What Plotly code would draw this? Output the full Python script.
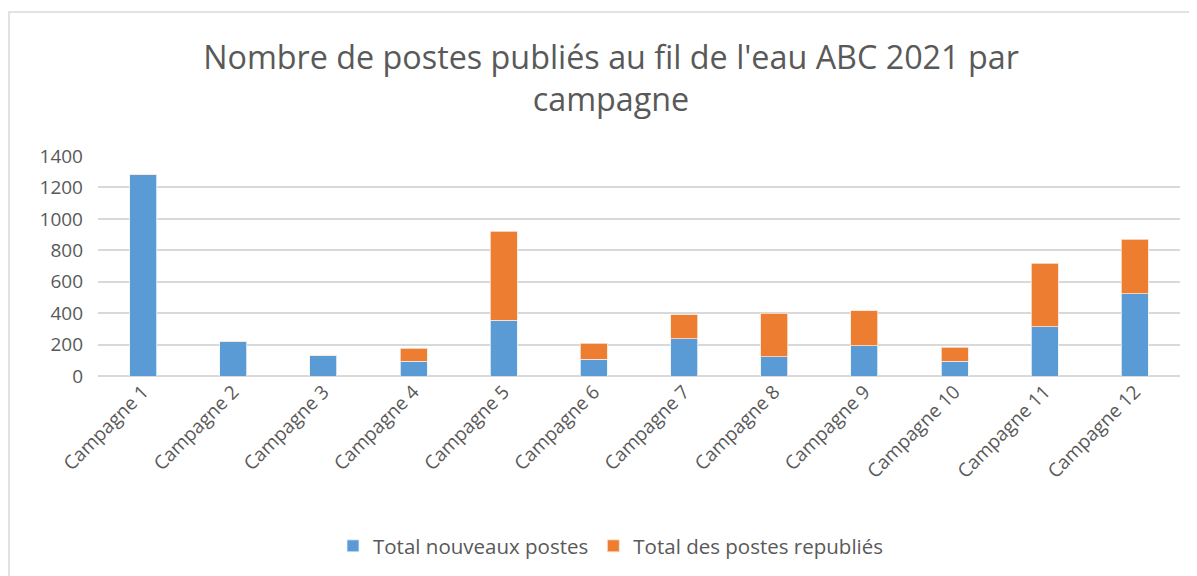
import plotly.graph_objects as go

categories = [f"Campagne {i}" for i in range(1, 13)]
nouveaux = [1280, 220, 130, 93, 355, 106, 238, 121, 193, 93, 314, 523]
republies = [0, 0, 0, 83, 565, 104, 151, 278, 223, 90, 402, 348]
y_ticks = [0, 200, 400, 600, 800, 1000, 1200, 1400]

BLUE = "#5B9BD5"
ORANGE = "#ED7D31"
TXT = "#595959"
GRID = "#D9D9D9"
FONT = "Open Sans"

O = 8  # page body margin offset
W, H = 1197 - O, 576 - O
# plot area in page coords: x 98..1180, y 156..376
L = 98 - O
T = 156 - O
R = W - (1180 - O)
B = H - (376 - O)
pw, ph = W - L - R, H - T - B

def px(x):  # page x -> paper
    return (x - O - L) / pw

def py(y):  # page y -> paper
    return (H - B - (y - O)) / ph

fig = go.Figure()
fig.add_trace(go.Bar(x=categories, y=nouveaux, name="Total nouveaux postes",
                     marker=dict(color=BLUE, line=dict(color="#EAF2FA", width=0.8))))
fig.add_trace(go.Bar(x=categories, y=republies, name="Total des postes republiés",
                     marker=dict(color=ORANGE, line=dict(color="#FBE5D6", width=0.8))))

fig.update_layout(
    barmode="stack",
    bargap=0.7,
    width=W, height=H,
    margin=dict(l=L, r=R, t=T, b=B, autoexpand=False),
    paper_bgcolor="white", plot_bgcolor="white",
    font=dict(family=FONT, color=TXT, size=19),
    title=dict(text="Nombre de postes publiés au fil de l'eau ABC 2021 par<br>campagne",
               x=(611 - O) / W, xanchor="center", xref="container",
               y=1 - (69 - O) / H, yanchor="top", yref="container",
               font=dict(family=FONT, size=32.3, color=TXT)),
    xaxis=dict(tickangle=-45, showgrid=False, showline=False, ticks="",
               tickfont=dict(size=19, color=TXT)),
    yaxis=dict(range=[0, 1400], tickvals=y_ticks, showgrid=True, gridcolor=GRID,
               gridwidth=1.5, zeroline=True, zerolinecolor=GRID, zerolinewidth=1.5,
               ticks="", tickfont=dict(size=19, color=TXT), ticklabelstandoff=14),
    legend=dict(orientation="h", x=px(611), xanchor="center", y=py(546), yanchor="middle",
                font=dict(size=20.5, color=TXT), traceorder="normal"),
    showlegend=True,
)

fig.add_shape(type="path", xref="paper", yref="paper",
              path=f"M {px(9)},{py(600)} L {px(9)},{py(12)} L {px(1210)},{py(12)}",
              line=dict(color=GRID, width=1.5))

fig.write_html("out.html")
